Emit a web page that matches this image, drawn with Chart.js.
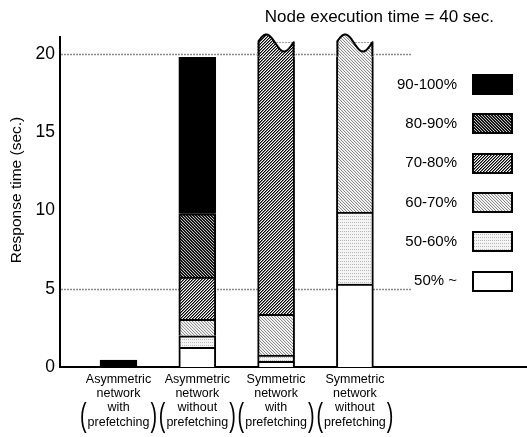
<!DOCTYPE html>
<html>
<head>
<meta charset="utf-8">
<script src="https://cdn.jsdelivr.net/npm/chart.js@4/dist/chart.umd.min.js"></script>
<style>
html,body{margin:0;padding:0;background:#fff;}
canvas{display:block;}
</style>
</head>
<body>
<canvas id="c" width="527" height="437"></canvas>
<script>
// ---------------- data ----------------
const categories = [
  ['Asymmetric', 'network', 'with', 'prefetching'],
  ['Asymmetric', 'network', 'without', 'prefetching'],
  ['Symmetric', 'network', 'with', 'prefetching'],
  ['Symmetric', 'network', 'without', 'prefetching']
];
const xPositions = [1, 2, 3, 4];
const seriesLabels = ['50% ~', '50-60%', '60-70%', '70-80%', '80-90%', '90-100%'];
// segment heights (sec.) per category, bottom to top
const s50    = [null, 1.26, 0.36, 5.3];
const s50_60 = [null, 0.74, 0.41, 4.6];
const s60_70 = [null, 1.05, 2.6, 10.85];
const s70_80 = [null, 2.7, 17.38, null];
const s80_90 = [null, 4.05, null, null];
const s90_100 = [0.45, 10.0, null, null];
const yTicks = [0, 5, 10, 15, 20];
const gridValues = [5, 20];
const brokenBars = [2, 3]; // bars that are cut off at the top
const titleText = 'Node execution time = 40 sec.';
const yTitle = 'Response time (sec.)';

// ---------------- patterns ----------------
const canvas = document.getElementById('c');
const mainCtx = canvas.getContext('2d');
function makePattern(w, h, bg, colorAt) {
  const c = document.createElement('canvas');
  c.width = w; c.height = h;
  const g = c.getContext('2d');
  g.fillStyle = bg; g.fillRect(0, 0, w, h);
  for (let y = 0; y < h; y++) for (let x = 0; x < w; x++) {
    const col = colorAt(x, y);
    if (col) { g.fillStyle = col; g.fillRect(x, y, 1, 1); }
  }
  return mainCtx.createPattern(c, 'repeat');
}
const mod3 = v => ((v % 3) + 3) % 3;
const fills = [
  '#ffffff',
  makePattern(4, 3, '#f4f4f4', (x, y) => (x % 2 === 0 && y % 3 === 0) ? '#b8b8b8' : null),
  makePattern(3, 3, '#ffffff', (x, y) => mod3(x - y) === 0 ? '#8c8c8c' : (mod3(x - y) === 1 ? '#e6e6e6' : null)),
  makePattern(3, 3, '#ffffff', (x, y) => mod3(x + y) === 0 ? '#000000' : (mod3(x + y) === 1 ? '#7a7a7a' : null)),
  makePattern(3, 3, '#151515', (x, y) => mod3(x - y) === 0 ? '#c4c4c4' : null),
  '#000000'
];
const seriesValues = [s50, s50_60, s60_70, s70_80, s80_90, s90_100];

Chart.defaults.font.family = "'Liberation Sans', Arial, sans-serif";
Chart.defaults.color = '#000';

const FONT = "'Liberation Sans', Arial, sans-serif";
const GRID_END = 412;

const decor = {
  id: 'decor',
  beforeDatasetsDraw(chart) {
    const {ctx, chartArea, scales: {y}} = chart;
    ctx.save();
    ctx.strokeStyle = '#8a8a8a';
    ctx.lineWidth = 1.5;
    ctx.setLineDash([2, 1]);
    gridValues.forEach(v => {
      const py = Math.round(y.getPixelForValue(v)) + 0.5;
      ctx.beginPath();
      ctx.moveTo(chartArea.left + 1, py);
      ctx.lineTo(GRID_END, py);
      ctx.stroke();
    });
    ctx.restore();
  },
  afterDatasetsDraw(chart) {
    const ctx = chart.ctx;
    brokenBars.forEach(i => {
      let d = -1;
      chart.data.datasets.forEach((ds, k) => { if (ds.data[i].y != null) d = k; });
      if (d < 0) return;
      const el = chart.getDatasetMeta(d).data[i];
      const {x, y: top, width} = el.getProps(['x', 'y', 'width'], true);
      const left = x - width / 2, right = x + width / 2;
      const pts = [];
      for (let k = 0; k <= 30; k++) {
        const t = k / 30;
        pts.push([left + 1 + t * (width - 2), top + 0.5 + 8.5 * Math.cos(2 * Math.PI * (t - 0.73) / 1.02)]);
      }
      ctx.save();
      ctx.fillStyle = '#fff';
      ctx.fillRect(left - 1, top - 13, width + 2, 27);
      ctx.beginPath();
      ctx.moveTo(left, top + 14);
      ctx.lineTo(left, pts[0][1]);
      pts.forEach(p => ctx.lineTo(p[0], p[1]));
      ctx.lineTo(right, pts[pts.length - 1][1]);
      ctx.lineTo(right, top + 14);
      ctx.closePath();
      ctx.fillStyle = chart.data.datasets[d].backgroundColor;
      ctx.fill();
      // faint cut line
      ctx.strokeStyle = '#999';
      ctx.lineWidth = 1;
      ctx.setLineDash([2, 1]);
      ctx.beginPath();
      ctx.moveTo(left + width * 0.5, Math.round(top) + 0.5);
      ctx.lineTo(right - 2, Math.round(top) + 0.5);
      ctx.stroke();
      // outline
      ctx.setLineDash([]);
      ctx.strokeStyle = '#000';
      ctx.lineWidth = 2;
      ctx.lineJoin = 'round';
      ctx.beginPath();
      ctx.moveTo(left + 1, top + 14);
      pts.forEach(p => ctx.lineTo(p[0], p[1]));
      ctx.lineTo(right - 1, top + 14);
      ctx.stroke();
      ctx.restore();
    });
  },
  afterDraw(chart) {
    const ctx = chart.ctx;
    ctx.save();
    // title
    ctx.fillStyle = '#000';
    ctx.font = '17px ' + FONT;
    ctx.textAlign = 'right';
    ctx.textBaseline = 'middle';
    ctx.fillText(titleText, 494, 17);
    // y title
    ctx.save();
    ctx.translate(17, 190);
    ctx.rotate(-Math.PI / 2);
    ctx.font = '15.5px ' + FONT;
    ctx.textAlign = 'center';
    ctx.textBaseline = 'middle';
    ctx.fillText(yTitle, 0, 0);
    ctx.restore();
    // legend
    const n = chart.data.datasets.length;
    for (let r = 0; r < n; r++) {
      const ds = chart.data.datasets[n - 1 - r];
      const yc = 84.5 + r * 39.3;
      ctx.font = '15px ' + FONT;
      ctx.textAlign = 'right';
      ctx.textBaseline = 'middle';
      ctx.fillStyle = '#000';
      ctx.fillText(ds.label, 457, yc);
      ctx.fillStyle = ds.backgroundColor;
      ctx.fillRect(472, Math.round(yc - 10.5), 41, 21);
      ctx.strokeStyle = '#000';
      ctx.lineWidth = 2;
      ctx.strokeRect(473, Math.round(yc - 10.5) + 1, 39, 19);
    }
    // parentheses around the last two label lines
    const xs = chart.scales.x;
    ctx.font = '12.5px ' + FONT;
    const w = ctx.measureText('prefetching').width;
    xPositions.forEach(v => {
      const cx = xs.getPixelForValue(v);
      ['(', ')'].forEach((ch, j) => {
        ctx.save();
        ctx.font = '33px ' + FONT;
        ctx.textBaseline = 'alphabetic';
        ctx.fillStyle = '#000';
        ctx.translate(j === 0 ? cx - w / 2 - 1 : cx + w / 2 + 1, 426);
        ctx.scale(0.6, 1);
        ctx.textAlign = j === 0 ? 'right' : 'left';
        ctx.fillText(ch, 0, 0);
        ctx.restore();
      });
    });
    ctx.restore();
  }
};

new Chart(canvas, {
  type: 'bar',
  data: {
    datasets: seriesLabels.map((lab, k) => ({
      label: lab,
      data: xPositions.map((x, i) => ({x: x, y: seriesValues[k][i]})),
      backgroundColor: fills[k],
      borderColor: '#000',
      borderWidth: 2,
      borderSkipped: 'start',
      barThickness: 37
    }))
  },
  options: {
    responsive: false,
    animation: false,
    layout: {padding: {top: 37, right: 0, bottom: 0, left: 0}},
    plugins: {legend: {display: false}, tooltip: {enabled: false}, title: {display: false}},
    scales: {
      x: {
        type: 'linear',
        min: 0.2576,
        max: 6.184,
        offset: false,
        stacked: true,
        grid: {display: false, drawTicks: false},
        border: {display: true, color: '#000', width: 2},
        afterBuildTicks: s => { s.ticks = xPositions.map(v => ({value: v})); },
        afterFit: s => { s.height = 70; },
        ticks: {
          autoSkip: false,
          maxRotation: 0,
          padding: 5,
          color: '#000',
          font: {size: 12.5, lineHeight: 1.15},
          callback: (v, i) => categories[i]
        }
      },
      y: {
        min: 0,
        max: 21.1,
        stacked: true,
        grid: {display: false, drawTicks: false},
        border: {display: true, color: '#000', width: 2},
        afterBuildTicks: s => { s.ticks = yTicks.map(v => ({value: v})); },
        afterFit: s => { s.width = 60; },
        ticks: {padding: 5, color: '#000', font: {size: 17.5}}
      }
    }
  },
  plugins: [decor]
});
</script>
</body>
</html>
